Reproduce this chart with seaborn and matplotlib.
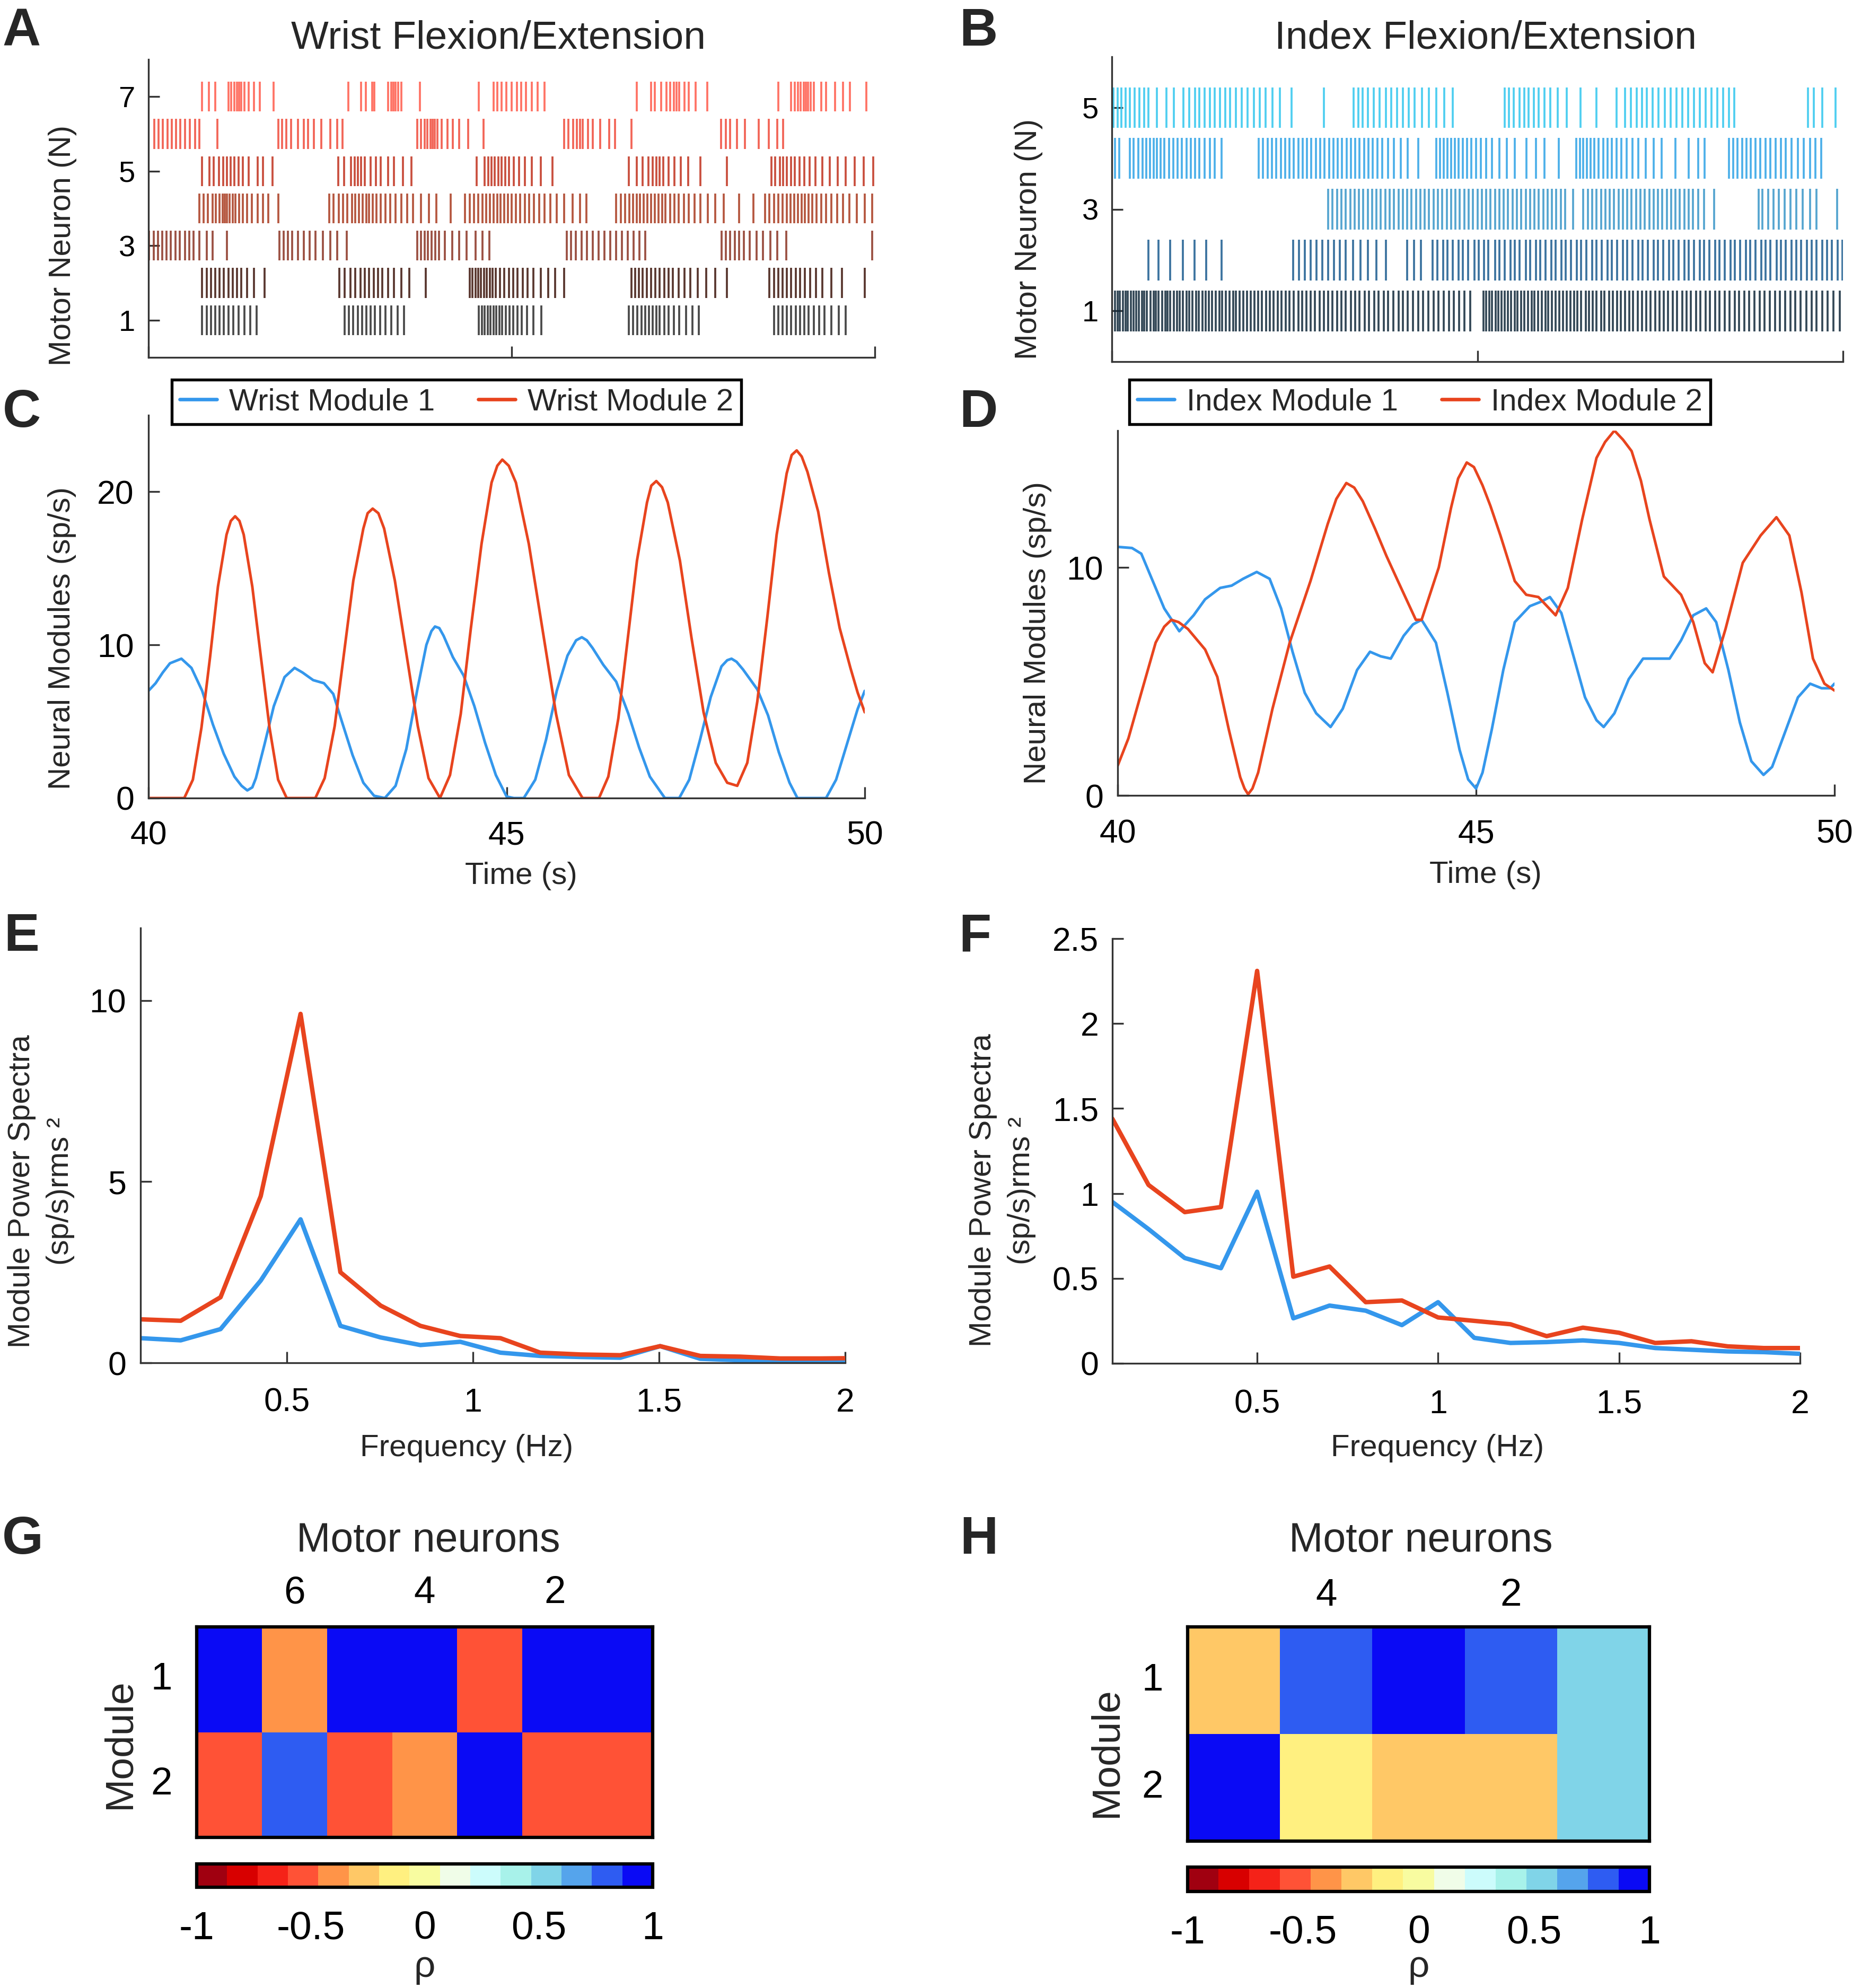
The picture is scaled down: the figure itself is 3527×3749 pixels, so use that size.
import matplotlib
matplotlib.use("Agg")
import matplotlib.pyplot as plt
import seaborn as sns
from matplotlib.colors import ListedColormap
from matplotlib.lines import Line2D

# ---------------- DATA ----------------
# A: wrist motor neuron spike times (s), neuron 1 .. 7
wrist_mn1 = [40.74, 40.80, 40.86, 40.92, 40.98, 41.04, 41.10, 41.17, 41.24, 41.32, 41.40, 41.49,
             42.70, 42.76, 42.82, 42.88, 42.94, 43.00, 43.06, 43.12, 43.19, 43.26, 43.34, 43.43, 43.52,
             44.55, 44.59, 44.63, 44.67, 44.71, 44.75, 44.79, 44.83, 44.87, 44.92, 44.97, 45.02, 45.08, 45.14, 45.21, 45.30, 45.41,
             46.61, 46.67, 46.73, 46.79, 46.84, 46.89, 46.94, 46.99, 47.04, 47.10, 47.16, 47.23, 47.31, 47.40, 47.49, 47.58,
             48.61, 48.67, 48.73, 48.79, 48.85, 48.91, 48.97, 49.03, 49.09, 49.16, 49.23, 49.31, 49.40, 49.50, 49.60]
wrist_mn2 = [40.74, 40.80, 40.86, 40.92, 40.98, 41.04, 41.10, 41.16, 41.22, 41.28, 41.36, 41.45, 41.60,
             42.63, 42.70, 42.78, 42.85, 42.92, 42.98, 43.04, 43.10, 43.16, 43.22, 43.30, 43.38, 43.48, 43.59, 43.82,
             44.42, 44.46, 44.50, 44.54, 44.58, 44.62, 44.66, 44.70, 44.74, 44.78, 44.84, 44.90, 44.96, 45.02, 45.08,
             45.15, 45.22, 45.30, 45.40, 45.50, 45.60, 45.72,
             46.65, 46.70, 46.75, 46.80, 46.86, 46.92, 46.98, 47.04, 47.10, 47.16, 47.22, 47.30, 47.38, 47.46, 47.56,
             47.68, 47.80, 47.96,
             48.55, 48.61, 48.67, 48.73, 48.79, 48.85, 48.91, 48.97, 49.04, 49.11, 49.19, 49.28, 49.40, 49.55, 49.86]
wrist_mn3 = [40.01, 40.07, 40.13, 40.19, 40.25, 40.31, 40.37, 40.43, 40.50, 40.56, 40.62, 40.70, 40.80, 40.88, 41.08,
             41.80, 41.86, 41.92, 41.98, 42.06, 42.14, 42.22, 42.30, 42.40, 42.50, 42.60, 42.73,
             43.70, 43.75, 43.80, 43.85, 43.90, 43.95, 44.00, 44.08, 44.18, 44.28, 44.38, 44.50, 44.60, 44.69,
             45.76, 45.82, 45.88, 45.96, 46.04, 46.12, 46.20, 46.28, 46.36, 46.44, 46.52, 46.60, 46.68, 46.76, 46.84,
             47.89, 47.95, 48.01, 48.07, 48.13, 48.20, 48.28, 48.37, 48.46, 48.56, 48.66, 48.78, 49.96]
wrist_mn4 = [40.70, 40.76, 40.82, 40.88, 40.93, 40.98, 41.02, 41.05, 41.08, 41.12, 41.16, 41.20, 41.25, 41.30,
             41.36, 41.42, 41.50, 41.58, 41.65, 41.79,
             42.49, 42.55, 42.62, 42.68, 42.74, 42.80, 42.85, 42.90, 42.95, 43.00, 43.04, 43.09, 43.14, 43.20,
             43.26, 43.33, 43.40, 43.48, 43.56, 43.64, 43.75, 43.86, 43.96, 44.16,
             44.36, 44.42, 44.48, 44.54, 44.60, 44.65, 44.70, 44.75, 44.80, 44.85, 44.90, 44.95, 45.00, 45.06,
             45.12, 45.18, 45.24, 45.31, 45.38, 45.45, 45.53, 45.62, 45.72, 45.84, 45.94, 46.03,
             46.44, 46.50, 46.56, 46.62, 46.67, 46.72, 46.77, 46.82, 46.87, 46.92, 46.97, 47.02, 47.07, 47.12,
             47.18, 47.24, 47.30, 47.37, 47.44, 47.52, 47.60, 47.70, 47.80, 47.92, 48.13, 48.33,
             48.49, 48.55, 48.61, 48.67, 48.73, 48.79, 48.84, 48.89, 48.94, 48.99, 49.04, 49.09, 49.14, 49.20,
             49.26, 49.33, 49.40, 49.48, 49.56, 49.65, 49.75, 49.86, 49.96]
wrist_mn5 = [40.74, 40.84, 40.90, 40.97, 41.03, 41.08, 41.13, 41.18, 41.24, 41.30, 41.38, 41.50, 41.58, 41.71,
             42.61, 42.69, 42.79, 42.84, 42.88, 42.93, 42.98, 43.06, 43.13, 43.20, 43.30, 43.38, 43.50, 43.62,
             44.52, 44.63, 44.68, 44.72, 44.77, 44.82, 44.86, 44.91, 44.96, 45.03, 45.10, 45.18, 45.28, 45.40, 45.56,
             46.61, 46.72, 46.80, 46.88, 46.94, 46.99, 47.04, 47.09, 47.16, 47.24, 47.33, 47.43, 47.60, 47.96,
             48.58, 48.63, 48.69, 48.74, 48.79, 48.85, 48.90, 48.96, 49.03, 49.10, 49.18, 49.28, 49.38, 49.49,
             49.60, 49.72, 49.85, 49.98]
wrist_mn6 = [40.08, 40.14, 40.20, 40.26, 40.32, 40.38, 40.44, 40.50, 40.57, 40.64, 40.70, 40.95,
             41.79, 41.84, 41.90, 41.96, 42.06, 42.14, 42.20, 42.28, 42.38, 42.50, 42.60, 42.67,
             43.70, 43.75, 43.80, 43.84, 43.88, 43.91, 43.94, 43.98, 44.04, 44.12, 44.19, 44.28, 44.40, 44.61,
             45.72, 45.78, 45.85, 45.90, 45.94, 45.98, 46.05, 46.12, 46.22, 46.34, 46.42, 46.65,
             47.88, 47.95, 48.01, 48.10, 48.21, 48.40, 48.54, 48.66, 48.74]
wrist_mn7 = [40.74, 40.83, 40.92, 41.10, 41.14, 41.18, 41.22, 41.25, 41.28, 41.32, 41.38, 41.45, 41.53, 41.72,
             42.75, 42.93, 42.99, 43.08, 43.11, 43.30, 43.34, 43.37, 43.40, 43.44, 43.48, 43.74,
             44.55, 44.75, 44.80, 44.86, 44.93, 45.00, 45.07, 45.13, 45.20, 45.28, 45.36, 45.45,
             46.72, 46.92, 46.97, 47.06, 47.13, 47.18, 47.23, 47.27, 47.31, 47.38, 47.44, 47.53, 47.69,
             48.67, 48.85, 48.90, 48.94, 48.98, 49.02, 49.05, 49.08, 49.12, 49.16, 49.26, 49.33, 49.45, 49.56,
             49.66, 49.88]

# B: index motor neuron spike times (s), neuron 1 .. 5
index_mn1 = [40.04, 40.08, 40.11, 40.15, 40.19, 40.22, 40.26, 40.30, 40.33, 40.37, 40.41, 40.44, 40.48, 40.53,
             40.57, 40.60, 40.64, 40.69, 40.73, 40.76, 40.80, 40.85, 40.89, 40.93, 40.97, 41.02, 41.06, 41.10,
             41.15, 41.19, 41.24, 41.28, 41.33, 41.37, 41.42, 41.47, 41.51, 41.56, 41.61, 41.66, 41.70, 41.75,
             41.80, 41.85, 41.90, 41.95, 42.00, 42.05, 42.11, 42.16, 42.21, 42.27, 42.32, 42.38, 42.43, 42.49,
             42.55, 42.60, 42.66, 42.72, 42.78, 42.84, 42.90, 42.96, 43.02, 43.08, 43.14, 43.20, 43.27, 43.33,
             43.39, 43.46, 43.52, 43.59, 43.65, 43.72, 43.78, 43.85, 43.92, 43.98, 44.05, 44.12, 44.19, 44.26,
             44.33, 44.40, 44.47, 44.54, 44.61, 44.68, 44.75, 44.82, 44.90,
             45.08, 45.12, 45.16, 45.20, 45.25, 45.29, 45.33, 45.37, 45.42, 45.46, 45.51, 45.55, 45.60, 45.64,
             45.69, 45.74, 45.78, 45.83, 45.88, 45.93, 45.97, 46.02, 46.07, 46.12, 46.17, 46.22, 46.27, 46.32,
             46.37, 46.42, 46.48, 46.53, 46.58, 46.63, 46.69, 46.74, 46.80, 46.85, 46.91, 46.96, 47.02, 47.08,
             47.13, 47.19, 47.25, 47.31, 47.37, 47.43, 47.49, 47.55, 47.61, 47.67, 47.73, 47.80, 47.86, 47.92,
             47.99, 48.05, 48.12, 48.18, 48.25, 48.31, 48.38, 48.45, 48.52, 48.58, 48.65, 48.72, 48.79, 48.86,
             48.93, 49.00, 49.07, 49.14, 49.21, 49.28, 49.35, 49.42, 49.50, 49.57, 49.64, 49.72, 49.79, 49.87, 49.96]
index_mn2 = [40.50, 40.64, 40.80, 40.97, 41.13, 41.29, 41.50,
             42.48, 42.56, 42.64, 42.72, 42.80, 42.88, 42.96, 43.04, 43.12, 43.20, 43.30, 43.40, 43.50, 43.62, 43.75,
             44.04, 44.13, 44.23,
             44.39, 44.45, 44.53, 44.59, 44.66, 44.74, 44.80, 44.87, 44.96, 45.02, 45.09, 45.15, 45.24, 45.30,
             45.37, 45.45, 45.51, 45.58, 45.66, 45.72, 45.80, 45.86, 45.93, 46.01, 46.07, 46.15, 46.21, 46.28,
             46.36, 46.42, 46.49, 46.57, 46.63, 46.70, 46.78, 46.84, 46.91, 46.99, 47.05, 47.12, 47.20, 47.26,
             47.33, 47.41, 47.47, 47.54, 47.62, 47.68, 47.75, 47.83, 47.89, 47.96, 48.04, 48.10, 48.17, 48.25,
             48.31, 48.38, 48.46, 48.52, 48.59, 48.67, 48.73, 48.80, 48.88, 48.94, 49.01, 49.09, 49.15, 49.22,
             49.30, 49.36, 49.43, 49.51, 49.57, 49.64, 49.72, 49.78, 49.85, 49.93, 49.99]
index_mn3 = [42.96, 43.02, 43.08, 43.14, 43.20, 43.26, 43.32, 43.38, 43.44, 43.50, 43.56, 43.62, 43.68, 43.74,
             43.80, 43.86, 43.92, 43.98, 44.04, 44.10, 44.16, 44.22, 44.28, 44.34, 44.40, 44.46, 44.52, 44.58,
             44.64, 44.70, 44.76, 44.82, 44.88, 44.94, 45.00, 45.06, 45.12, 45.18, 45.24, 45.30, 45.36, 45.42,
             45.48, 45.54, 45.60, 45.66, 45.72, 45.78, 45.84, 45.90, 45.96, 46.02, 46.08, 46.14, 46.20, 46.31,
             46.45, 46.51, 46.57, 46.63, 46.69, 46.75, 46.81, 46.87, 46.93, 46.99, 47.05, 47.11, 47.17, 47.23,
             47.29, 47.35, 47.41, 47.47, 47.53, 47.59, 47.65, 47.71, 47.77, 47.83, 47.89, 47.95, 48.02, 48.10, 48.24,
             48.85, 48.90, 48.98, 49.05, 49.12, 49.20, 49.28, 49.36, 49.45, 49.55, 49.64, 49.92]
index_mn4 = [40.04, 40.10, 40.25, 40.30, 40.36, 40.42, 40.47, 40.52, 40.57, 40.62, 40.67, 40.72, 40.78, 40.84,
             40.90, 40.96, 41.02, 41.08, 41.14, 41.20, 41.27, 41.34, 41.41, 41.50,
             42.01, 42.07, 42.13, 42.19, 42.25, 42.31, 42.37, 42.43, 42.49, 42.55, 42.61, 42.67, 42.73, 42.79,
             42.85, 42.91, 42.97, 43.03, 43.09, 43.15, 43.21, 43.27, 43.33, 43.39, 43.45, 43.51, 43.57, 43.63,
             43.70, 43.78, 43.86, 43.95, 44.05, 44.19,
             44.44, 44.49, 44.54, 44.59, 44.64, 44.69, 44.74, 44.80, 44.86, 44.92, 44.98, 45.05, 45.12, 45.20,
             45.30, 45.40, 45.51, 45.67, 45.80, 45.92, 46.11,
             46.35, 46.40, 46.45, 46.50, 46.55, 46.60, 46.66, 46.72, 46.78, 46.84, 46.90, 46.97, 47.04, 47.12,
             47.20, 47.30, 47.41, 47.52, 47.71, 47.89, 48.02, 48.11,
             48.44, 48.50, 48.56, 48.62, 48.68, 48.74, 48.80, 48.87, 48.94, 49.01, 49.08, 49.15, 49.22, 49.30,
             49.38, 49.46, 49.55, 49.62, 49.70]
index_mn5 = [40.02, 40.08, 40.13, 40.19, 40.25, 40.31, 40.38, 40.44, 40.50, 40.62, 40.75, 40.85, 40.98, 41.06,
             41.14, 41.20, 41.27, 41.34, 41.41, 41.48, 41.55, 41.62, 41.70, 41.78, 41.86, 41.94, 42.02, 42.10,
             42.20, 42.30, 42.46, 42.90,
             43.31, 43.37, 43.43, 43.50, 43.58, 43.66, 43.75, 43.82, 43.90, 43.98, 44.06, 44.14, 44.24, 44.34,
             44.44, 44.55, 44.66,
             45.37, 45.43, 45.50, 45.58, 45.64, 45.70, 45.77, 45.84, 45.92, 46.00, 46.10, 46.22, 46.41, 46.63,
             46.90, 47.02, 47.10, 47.18, 47.25, 47.32, 47.40, 47.48, 47.56, 47.64, 47.72, 47.80, 47.88, 47.96,
             48.04, 48.12, 48.20, 48.28, 48.36, 48.44, 48.51, 49.52, 49.60, 49.72, 49.90]

# C: wrist neural modules (sp/s)
wrist_m1_t = [40.0, 40.1, 40.2, 40.3, 40.46, 40.6, 40.75, 40.9, 41.05, 41.2, 41.3, 41.38, 41.45, 41.5, 41.62,
              41.75, 41.9, 42.04, 42.15, 42.3, 42.45, 42.58, 42.7, 42.85, 43.0, 43.15, 43.3, 43.45, 43.6, 43.75,
              43.88, 43.95, 44.0, 44.06, 44.12, 44.25, 44.4, 44.55, 44.7, 44.85, 45.0, 45.1, 45.24, 45.4, 45.55,
              45.7, 45.85, 45.97, 46.05, 46.12, 46.2, 46.35, 46.53, 46.7, 46.85, 47.0, 47.21, 47.41, 47.55,
              47.7, 47.85, 48.0, 48.08, 48.14, 48.21, 48.3, 48.5, 48.65, 48.8, 48.95, 49.06, 49.46, 49.6, 49.75,
              49.9, 50.0]
wrist_m1 = [7.0, 7.5, 8.2, 8.8, 9.1, 8.5, 7.0, 4.8, 2.9, 1.4, 0.8, 0.5, 0.7, 1.3, 3.5,
            6.0, 7.9, 8.5, 8.2, 7.7, 7.5, 6.8, 5.0, 2.8, 1.0, 0.15, 0.0, 0.8, 3.2, 7.0,
            10.0, 10.9, 11.2, 11.1, 10.6, 9.2, 8.0, 6.0, 3.6, 1.5, 0.1, 0.0, 0.0, 1.2, 3.8,
            7.0, 9.3, 10.3, 10.5, 10.3, 9.8, 8.7, 7.6, 5.5, 3.3, 1.4, 0.0, 0.0, 1.2,
            3.8, 6.6, 8.6, 9.0, 9.1, 8.9, 8.4, 7.1, 5.4, 3.0, 1.0, 0.0, 0.0, 1.2, 3.5,
            5.8, 7.0]
wrist_m2_t = [40.0, 40.5, 40.62, 40.74, 40.86, 40.97, 41.09, 41.15, 41.21, 41.27, 41.33, 41.45, 41.57, 41.69,
              41.81, 41.93, 42.33, 42.46, 42.6, 42.73, 42.86, 43.0, 43.06, 43.13, 43.21, 43.29, 43.44, 43.6,
              43.76, 43.91, 44.07, 44.21, 44.36, 44.5, 44.65, 44.79, 44.87, 44.94, 45.03, 45.13, 45.31, 45.5,
              45.69, 45.87, 46.06, 46.29, 46.42, 46.56, 46.69, 46.82, 46.96, 47.02, 47.09, 47.17, 47.25, 47.42,
              47.58, 47.75, 47.92, 48.08, 48.22, 48.36, 48.5, 48.64, 48.77, 48.91, 48.98, 49.05, 49.12, 49.2,
              49.35, 49.5, 49.65, 49.8, 49.9, 50.0]
wrist_m2 = [0.0, 0.0, 1.2, 4.6, 9.2, 13.8, 17.2, 18.1, 18.4, 18.1, 17.2, 13.8, 9.2, 4.6,
            1.2, 0.0, 0.0, 1.3, 4.7, 9.45, 14.2, 17.6, 18.6, 18.9, 18.6, 17.6, 14.2, 9.45,
            4.7, 1.3, 0.0, 1.5, 5.5, 11.05, 16.6, 20.6, 21.7, 22.1, 21.7, 20.6, 16.6, 11.05,
            5.5, 1.5, 0.0, 0.0, 1.4, 5.2, 10.35, 15.5, 19.3, 20.4, 20.7, 20.3, 19.3, 15.5,
            10.5, 5.6, 2.3, 1.0, 0.8, 2.3, 6.3, 11.8, 17.2, 21.2, 22.4, 22.7, 22.3, 21.3,
            18.7, 14.7, 11.1, 8.5, 6.9, 5.6]

# D: index neural modules (sp/s)
index_m1_t = [40.0, 40.2, 40.33, 40.49, 40.65, 40.86, 41.06, 41.22, 41.43, 41.59, 41.75, 41.94, 42.12, 42.28,
              42.44, 42.61, 42.77, 42.97, 43.14, 43.34, 43.52, 43.67, 43.81, 43.99, 44.12, 44.24, 44.44, 44.6,
              44.77, 44.89, 45.0, 45.09, 45.22, 45.38, 45.54, 45.75, 45.91, 46.03, 46.19, 46.36, 46.52, 46.68,
              46.78, 46.93, 47.13, 47.33, 47.54, 47.7, 47.86, 48.03, 48.21, 48.35, 48.52, 48.68, 48.84, 49.01,
              49.13, 49.29, 49.49, 49.66, 49.82, 49.94, 50.0]
index_m1 = [10.9, 10.85, 10.6, 9.4, 8.2, 7.2, 7.9, 8.6, 9.1, 9.2, 9.5, 9.8, 9.5, 8.2,
            6.3, 4.5, 3.6, 3.0, 3.8, 5.5, 6.3, 6.1, 6.0, 7.0, 7.5, 7.7, 6.7, 4.5,
            2.0, 0.7, 0.3, 1.0, 2.9, 5.5, 7.6, 8.3, 8.5, 8.7, 8.0, 6.1, 4.3, 3.3,
            3.0, 3.6, 5.1, 6.0, 6.0, 6.0, 6.8, 7.9, 8.2, 7.6, 5.5, 3.2, 1.5, 0.9,
            1.25, 2.6, 4.3, 4.9, 4.7, 4.7, 4.9]
index_m2_t = [40.0, 40.15, 40.33, 40.53, 40.65, 40.75, 40.85, 40.98, 41.22, 41.39, 41.55, 41.71, 41.77, 41.82,
              41.88, 41.96, 42.16, 42.4, 42.69, 42.93, 43.05, 43.19, 43.3, 43.42, 43.59, 43.75, 43.91, 44.16,
              44.24, 44.48, 44.65, 44.75, 44.87, 44.97, 45.09, 45.2, 45.34, 45.54, 45.7, 45.87, 46.11, 46.28,
              46.48, 46.68, 46.8, 46.93, 47.05, 47.17, 47.3, 47.42, 47.62, 47.86, 48.03, 48.19, 48.3, 48.48,
              48.72, 48.97, 49.19, 49.37, 49.54, 49.7, 49.86, 50.0]
index_m2 = [1.3, 2.5, 4.5, 6.7, 7.4, 7.7, 7.6, 7.3, 6.4, 5.2, 2.9, 0.8, 0.3, 0.05,
            0.3, 1.0, 3.8, 6.7, 9.4, 11.9, 13.0, 13.7, 13.5, 12.9, 11.7, 10.5, 9.4, 7.7,
            7.7, 10.0, 12.6, 13.9, 14.6, 14.4, 13.6, 12.7, 11.4, 9.4, 8.8, 8.7, 7.9, 9.1,
            12.1, 14.8, 15.5, 16.0, 15.6, 15.1, 13.8, 12.1, 9.6, 8.8, 7.6, 5.8, 5.4, 7.3,
            10.2, 11.4, 12.2, 11.4, 8.9, 6.0, 4.9, 4.6]

# E: wrist module power spectra
wrist_freq = [0.107, 0.215, 0.322, 0.43, 0.537, 0.644, 0.752, 0.859, 0.966, 1.074,
              1.181, 1.289, 1.396, 1.503, 1.611, 1.718, 1.825, 1.933, 2.04]
wrist_psd1 = [0.68, 0.62, 0.93, 2.27, 3.96, 1.02, 0.70, 0.49, 0.58, 0.28,
              0.19, 0.16, 0.14, 0.46, 0.11, 0.07, 0.05, 0.05, 0.04]
wrist_psd2 = [1.2, 1.16, 1.81, 4.6, 9.63, 2.5, 1.58, 1.02, 0.74, 0.68,
              0.28, 0.23, 0.21, 0.46, 0.19, 0.17, 0.12, 0.12, 0.13]

# F: index module power spectra
index_freq = [0.1, 0.2, 0.3, 0.4, 0.5, 0.6, 0.7, 0.8, 0.9, 1.0,
              1.1, 1.2, 1.3, 1.4, 1.5, 1.6, 1.7, 1.8, 1.9, 2.0]
index_psd1 = [0.95, 0.79, 0.62, 0.56, 1.01, 0.265, 0.34, 0.31, 0.225, 0.36,
              0.15, 0.12, 0.125, 0.135, 0.12, 0.09, 0.08, 0.07, 0.066, 0.056]
index_psd2 = [1.44, 1.05, 0.89, 0.92, 2.31, 0.51, 0.57, 0.36, 0.37, 0.27,
              0.25, 0.23, 0.16, 0.21, 0.18, 0.12, 0.13, 0.10, 0.09, 0.09]

# G/H: correlation of modules with motor neurons (columns: neuron N .. 1)
wrist_corr = [[1.0, -0.4, 1.0, 1.0, -0.55, 1.0, 1.0],
              [-0.55, 0.8, -0.55, -0.4, 1.0, -0.55, -0.55]]
index_corr = [[-0.27, 0.8, 1.0, 0.8, 0.53],
              [1.0, -0.13, -0.27, -0.27, 0.53]]

rho_colors = ['#a00010', '#d80000', '#f52218', '#ff5236', '#ff9448', '#ffc866', '#fff080', '#f8fca0',
              '#f0fde8', '#ccfcfc', '#a8f2ea', '#80d4e8', '#55a4ec', '#2e5cf2', '#0a0af5']
wrist_row_colors = ['#2a2a2a', '#3c140a', '#8a3222', '#a83a1e', '#c0301c', '#f04a3a', '#ff5a4a']
index_row_colors = ['#10283a', '#1a5a8e', '#3896c8', '#2ea2e6', '#30c6ee']

BLUE = '#3497ec'
RED = '#e8441e'
AX_COL = '#333333'

# ---------------- STYLE ----------------
sns.set_theme(style="ticks")
plt.rcParams['font.family'] = ['Liberation Sans', 'DejaVu Sans']
plt.rcParams['axes.edgecolor'] = AX_COL
plt.rcParams['axes.linewidth'] = 0.8
plt.rcParams['xtick.color'] = AX_COL
plt.rcParams['ytick.color'] = AX_COL
plt.rcParams['xtick.labelcolor'] = 'black'
plt.rcParams['ytick.labelcolor'] = 'black'

W, H = 3527, 3749
fig = plt.figure(figsize=(W / 300, H / 300), dpi=300)


def px_axes(l, t, r, b):
    return fig.add_axes([l / W, 1 - b / H, (r - l) / W, (b - t) / H])


def fx(x):
    return x / W


def fy(y):
    return 1 - y / H


def style_line_axes(ax, xpad, ypad, size):
    sns.despine(ax=ax)
    ax.tick_params(direction='in', length=5, width=0.8, labelsize=size)
    ax.tick_params(axis='x', pad=xpad)
    ax.tick_params(axis='y', pad=ypad)


def set_labels(ax, xl, xpos, yl, ypos, size=14, ml=1.2):
    if xl:
        ax.set_xlabel(xl, fontsize=size, va='center')
        ax.xaxis.set_label_coords(*xpos)
    ax.set_ylabel(yl, fontsize=size, va='center', ha='center', linespacing=ml)
    ax.yaxis.set_label_coords(*ypos)


# ---------------- A / B rasters ----------------
def raster(ax, rows, colors, top):
    for n, (spikes, c) in enumerate(zip(rows, colors), start=1):
        ax.vlines(spikes, n - 0.4, n + 0.4, color=c, lw=0.9, alpha=0.85)
    ax.set_xlim(40, 50)
    ax.set_ylim(0, top)
    ax.set_xticks([40, 45, 50])
    ax.set_xticklabels([])
    style_line_axes(ax, 8, 6, 13.5)


axA = px_axes(280, 112, 1650, 674)
raster(axA, [wrist_mn1, wrist_mn2, wrist_mn3, wrist_mn4, wrist_mn5, wrist_mn6, wrist_mn7],
       wrist_row_colors, 8)
axA.set_yticks([1, 3, 5, 7])
set_labels(axA, None, None, 'Motor Neuron (N)', (-0.118, 0.375))

axB = px_axes(2097, 107, 3476, 682)
raster(axB, [index_mn1, index_mn2, index_mn3, index_mn4, index_mn5], index_row_colors, 6)
axB.set_yticks([1, 3, 5])
set_labels(axB, None, None, 'Motor Neuron (N)', (-0.114, 0.402))

fig.text(fx(940), fy(92), 'Wrist Flexion/Extension', ha='center', va='baseline', fontsize=18)
fig.text(fx(2802), fy(92), 'Index Flexion/Extension', ha='center', va='baseline', fontsize=18)

# ---------------- C / D modules ----------------
axC = px_axes(280, 783, 1631, 1505)
sns.lineplot(x=wrist_m1_t, y=wrist_m1, ax=axC, color=BLUE, lw=1.2)
sns.lineplot(x=wrist_m2_t, y=wrist_m2, ax=axC, color=RED, lw=1.2)
axC.set_xlim(40, 50)
axC.set_ylim(0, 25)
axC.set_xticks([40, 45, 50])
axC.set_yticks([0, 10, 20])
style_line_axes(axC, 10, 6.5, 15)
set_labels(axC, 'Time (s)', (0.52, -0.204), 'Neural Modules (sp/s)', (-0.121, 0.417))

axD = px_axes(2108, 812, 3460, 1500)
sns.lineplot(x=index_m1_t, y=index_m1, ax=axD, color=BLUE, lw=1.2)
sns.lineplot(x=index_m2_t, y=index_m2, ax=axD, color=RED, lw=1.2)
axD.set_xlim(40, 50)
axD.set_ylim(0, 16)
axD.set_xticks([40, 45, 50])
axD.set_yticks([0, 10])
style_line_axes(axD, 10.5, 6.5, 15)
set_labels(axD, 'Time (s)', (0.513, -0.218), 'Neural Modules (sp/s)', (-0.112, 0.446))

for ax, names, cx in [(axC, ['Wrist Module 1', 'Wrist Module 2'], 861),
                      (axD, ['Index Module 1', 'Index Module 2'], 2678)]:
    handles = [Line2D([], [], color=BLUE, lw=1.6), Line2D([], [], color=RED, lw=1.6)]
    leg = ax.legend(handles, names, loc='center', bbox_to_anchor=(fx(cx), fy(758)),
                    bbox_transform=fig.transFigure, ncol=2, fontsize=14, frameon=True,
                    fancybox=False, edgecolor='black', framealpha=1, handlelength=1.2,
                    handletextpad=0.4, columnspacing=1.4, borderpad=0.25)
    leg.get_frame().set_linewidth(1.3)

# ---------------- E / F spectra ----------------
axE = px_axes(265, 1750, 1594, 2570)
sns.lineplot(x=wrist_freq, y=wrist_psd1, ax=axE, color=BLUE, lw=2.0)
sns.lineplot(x=wrist_freq, y=wrist_psd2, ax=axE, color=RED, lw=2.0)
axE.set_xlim(0.107, 2.0)
axE.set_ylim(0, 12)
axE.set_xticks([0.5, 1, 1.5, 2])
axE.set_xticklabels(['0.5', '1', '1.5', '2'])
axE.set_yticks([0, 5, 10])
style_line_axes(axE, 11, 6.5, 15)
set_labels(axE, 'Frequency (Hz)', (0.463, -0.196), 'Module Power Spectra\n(sp/s)rms ²',
           (-0.141, 0.394), ml=1.45)

axF = px_axes(2098, 1770, 3395, 2571)
sns.lineplot(x=index_freq, y=index_psd1, ax=axF, color=BLUE, lw=2.0)
sns.lineplot(x=index_freq, y=index_psd2, ax=axF, color=RED, lw=2.0)
axF.set_xlim(0.1, 2.0)
axF.set_ylim(0, 2.5)
axF.set_xticks([0.5, 1, 1.5, 2])
axF.set_xticklabels(['0.5', '1', '1.5', '2'])
axF.set_yticks([0, 0.5, 1, 1.5, 2, 2.5])
axF.set_yticklabels(['0', '0.5', '1', '1.5', '2', '2.5'])
style_line_axes(axF, 11.5, 6.2, 15)
set_labels(axF, 'Frequency (Hz)', (0.473, -0.2), 'Module Power Spectra\n(sp/s)rms ²',
           (-0.160, 0.407), ml=1.45)

# ---------------- G / H heatmaps ----------------
cmap = ListedColormap(rho_colors)


def corr_map(rect, cbar_rect, data, xt, xtl, xpad, ylab_pos, rho_y):
    ax = px_axes(*rect)
    cax = px_axes(*cbar_rect)
    sns.heatmap(data, ax=ax, cmap=cmap, vmin=-1, vmax=1, cbar_ax=cax,
                cbar_kws={'orientation': 'horizontal', 'ticks': [-1, -0.5, 0, 0.5, 1]})
    ax.set_xticks(xt)
    ax.set_xticklabels(xtl, rotation=0)
    ax.set_yticks([0.5, 1.5])
    ax.set_yticklabels(['1', '2'], rotation=0)
    ax.tick_params(axis='x', top=True, bottom=True, labeltop=True, labelbottom=False,
                   direction='in', length=5, width=1, labelsize=17.5, pad=xpad)
    ax.tick_params(axis='y', left=True, right=True, direction='in', length=5, width=1,
                   labelsize=17.5, pad=11)
    for sp in ax.spines.values():
        sp.set_visible(True)
        sp.set_color('black')
        sp.set_linewidth(1.5)
    ax.set_xlabel('')
    ax.set_ylabel('Module', fontsize=18, va='center', ha='center')
    ax.yaxis.set_label_coords(*ylab_pos)
    cb = ax.collections[0].colorbar
    cb.outline.set_edgecolor('black')
    cb.outline.set_linewidth(1.5)
    cax.set_xticklabels(['-1', '-0.5', '0', '0.5', '1'])
    cax.tick_params(axis='x', direction='in', length=5, width=1, bottom=True, top=False,
                    labelsize=18, pad=10.5)
    cax.set_xlabel('ρ', fontsize=17, va='baseline')
    cax.xaxis.set_label_coords(0.5, rho_y)
    return ax


axG = corr_map((371, 3068, 1231, 3465), (371, 3515, 1231, 3559), wrist_corr,
               [1.5, 3.5, 5.5], ['6', '4', '2'], 7.2, (-0.169, 0.446), -3.85)
axH = corr_map((2240, 3068, 3111, 3472), (2240, 3521, 3111, 3567), index_corr,
               [0.5, 1.5, 2.5, 3.5, 4.5], ['', '4', '', '2', ''], 6.0, (-0.176, 0.416), -3.5)

fig.text(fx(808), fy(2926), 'Motor neurons', ha='center', va='baseline', fontsize=18.5)
fig.text(fx(2680), fy(2926), 'Motor neurons', ha='center', va='baseline', fontsize=18.5)

# ---------------- panel letters ----------------
for letter, x, y in [('A', 5, 86), ('B', 1809, 86), ('C', 5, 805), ('D', 1809, 805),
                     ('E', 7, 1793), ('F', 1808, 1793), ('G', 4, 2930), ('H', 1810, 2930)]:
    fig.text(fx(x), fy(y), letter, ha='left', va='baseline', fontsize=24, fontweight='bold')

fig.savefig('out.png', dpi=300)
